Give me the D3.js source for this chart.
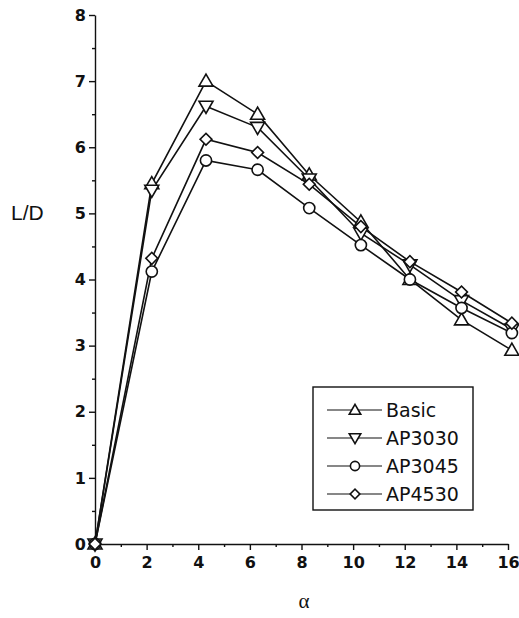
<!DOCTYPE html>
<html>
<head>
<meta charset="utf-8">
<script src="https://cdn.jsdelivr.net/npm/d3@7"></script>
<style>
  body { margin: 0; background: #fff; }
  text { font-family: "DejaVu Sans", sans-serif; fill: #111; }
</style>
</head>
<body>
<div id="chart"></div>
<script>
// data
var alpha = [0, 2.2, 4.3, 6.3, 8.3, 10.3, 12.2, 14.2, 16.15];
var basic  = [0, 5.45, 7.0, 6.5, 5.58, 4.87, 4.0, 3.39, 2.93];
var ap3030 = [0, 5.35, 6.62, 6.3, 5.52, 4.7, 4.22, 3.68, 3.25];
var ap3045 = [0, 4.12, 5.8, 5.66, 5.08, 4.52, 4.0, 3.57, 3.19];
var ap4530 = [0, 4.32, 6.12, 5.92, 5.44, 4.8, 4.27, 3.81, 3.34];
var seriesNames = ["Basic", "AP3030", "AP3045", "AP4530"];
var xTicks = [0, 2, 4, 6, 8, 10, 12, 14, 16];
var yTicks = [0, 1, 2, 3, 4, 5, 6, 7, 8];

var series = [
  { name: seriesNames[0], values: basic,  marker: "up" },
  { name: seriesNames[1], values: ap3030, marker: "down" },
  { name: seriesNames[2], values: ap3045, marker: "circle" },
  { name: seriesNames[3], values: ap4530, marker: "diamond" }
];

var margin = { top: 15, right: 11, bottom: 74, left: 95 };
var W = 519, H = 618;
var width = W - margin.left - margin.right;
var height = H - margin.top - margin.bottom;

var svg = d3.select("#chart").append("svg")
  .attr("width", W)
  .attr("height", H);
var g = svg.append("g")
  .attr("transform", "translate(" + margin.left + "," + margin.top + ")");

var x = d3.scaleLinear().domain([0, 16]).range([0, width]);
var y = d3.scaleLinear().domain([0, 8]).range([height, 0]);

// minor ticks first, then major
g.append("g")
  .attr("transform", "translate(0," + height + ")")
  .call(d3.axisBottom(x).tickValues([1, 3, 5, 7, 9, 11, 13, 15]).tickSize(3).tickFormat(""))
  .call(a => a.select(".domain").remove());
g.append("g")
  .call(d3.axisLeft(y).tickValues(d3.range(0.5, 8, 1)).tickSize(3).tickFormat(""))
  .call(a => a.select(".domain").remove());

var xAxis = g.append("g")
  .attr("transform", "translate(0," + height + ")")
  .call(d3.axisBottom(x).tickValues(xTicks).tickSize(6).tickPadding(7).tickSizeOuter(0));
var yAxis = g.append("g")
  .call(d3.axisLeft(y).tickValues(yTicks).tickSize(6).tickPadding(3).tickSizeOuter(0));

g.selectAll(".domain").attr("stroke", "#111").attr("stroke-width", 1.4);
g.selectAll(".tick line").attr("stroke", "#111").attr("stroke-width", 1.4);
g.selectAll(".tick text")
  .style("font-size", "16px")
  .style("font-weight", "bold")
  .style("font-family", "DejaVu Sans, sans-serif")
  .attr("fill", "#111");

// axis titles
svg.append("text")
  .attr("x", 11)
  .attr("y", 220)
  .style("font-family", "Liberation Sans, sans-serif")
  .style("font-size", "21px")
  .text("L/D");

svg.append("text")
  .attr("x", margin.left + x(8.1))
  .attr("y", 608)
  .attr("text-anchor", "middle")
  .style("font-family", "Liberation Serif, serif")
  .style("font-size", "21px")
  .text("\u03b1");

var line = d3.line()
  .x((d, i) => x(alpha[i]))
  .y(d => y(d));

function drawMarker(sel, type, k) {
  if (type === "circle") {
    sel.append("circle").attr("r", 5.6 * k);
  } else if (type === "diamond") {
    sel.append("path")
      .attr("d", d3.symbol().type(d3.symbolSquare).size(70 * k * k)())
      .attr("transform", "rotate(45)");
  } else if (type === "up") {
    sel.append("path")
      .attr("d", d3.symbol().type(d3.symbolTriangle).size(85 * k * k)())
      .attr("transform", "translate(0,1)");
  } else {
    sel.append("path")
      .attr("d", d3.symbol().type(d3.symbolTriangle).size(85 * k * k)())
      .attr("transform", "translate(0,-1) rotate(180)");
  }
  sel.selectAll("circle, path")
    .attr("fill", "#fff")
    .attr("stroke", "#111")
    .attr("stroke-width", 1.6);
}

series.forEach(function(s) {
  g.append("path")
    .datum(s.values)
    .attr("fill", "none")
    .attr("stroke", "#111")
    .attr("stroke-width", 1.6)
    .attr("d", line);
});

series.forEach(function(s) {
  s.values.forEach(function(v, i) {
    var m = g.append("g")
      .attr("transform", "translate(" + x(alpha[i]) + "," + y(v) + ")");
    drawMarker(m, s.marker, 1);
  });
});

// legend
var legend = svg.append("g").attr("transform", "translate(313,387)");
legend.append("rect")
  .attr("width", 160)
  .attr("height", 123)
  .attr("fill", "#fff")
  .attr("stroke", "#111")
  .attr("stroke-width", 1.4);

series.forEach(function(s, i) {
  var row = legend.append("g").attr("transform", "translate(0," + (23 + i * 28) + ")");
  row.append("line")
    .attr("x1", 14).attr("x2", 69)
    .attr("stroke", "#111").attr("stroke-width", 1.2);
  var m = row.append("g").attr("transform", "translate(42,0)");
  drawMarker(m, s.marker, 0.82);
  row.append("text")
    .attr("x", 73)
    .attr("y", 7)
    .style("font-size", "19px")
    .text(s.name);
});
</script>
</body>
</html>
